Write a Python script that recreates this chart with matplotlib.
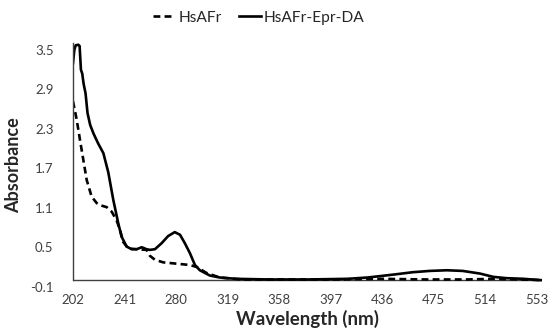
import matplotlib
matplotlib.use("Agg")
import matplotlib.pyplot as plt
from matplotlib.lines import Line2D

# HsAFr-Epr-DA (solid)
wl_solid = [202, 203, 204, 206, 207, 208, 209, 210, 211.5, 213, 215, 217.5, 221, 225,
            228.7, 232.5, 236.3, 238.8, 242.6, 246.4, 250.2, 254, 257.7, 260.2, 264,
            269, 274, 279, 283, 286.7, 290.5, 294.3, 298, 305.6, 313, 325, 350, 380,
            410, 425, 434, 447, 459, 472, 485, 497, 510, 520, 530, 543, 556]
abs_solid = [3.30, 3.50, 3.57, 3.58, 3.56, 3.20, 3.14, 2.99, 2.84, 2.54, 2.36, 2.23, 2.08, 1.93,
             1.64, 1.22, 0.86, 0.66, 0.51, 0.47, 0.47, 0.50, 0.47, 0.46, 0.47,
             0.56, 0.67, 0.73, 0.69, 0.56, 0.41, 0.23, 0.15, 0.07, 0.04, 0.02, 0.01, 0.01,
             0.02, 0.04, 0.06, 0.09, 0.12, 0.14, 0.15, 0.14, 0.10, 0.05, 0.03, 0.02, 0.00]

# HsAFr (dashed)
wl_dash = [202, 204.8, 207.3, 209.8, 212.4, 216.1, 220, 222.4, 227.5, 231.3, 235, 237.6,
           240, 243.9, 250.2, 257.7, 260.2, 264, 270.3, 280.4, 290.5, 295.6, 303, 313,
           330, 360, 400, 434, 470, 500, 520, 540, 556]
abs_dash = [2.72, 2.44, 2.13, 1.83, 1.52, 1.27, 1.17, 1.14, 1.11, 1.04, 0.91, 0.76,
            0.58, 0.48, 0.47, 0.46, 0.37, 0.31, 0.27, 0.25, 0.23, 0.20, 0.11, 0.04,
            0.01, 0.01, 0.01, 0.02, 0.01, 0.01, 0.02, 0.01, 0.00]

x_ticks = [202, 241, 280, 319, 358, 397, 436, 475, 514, 553]
y_ticks = [-0.1, 0.5, 1.1, 1.7, 2.3, 2.9, 3.5]

plt.rcParams['font.family'] = ['Lato', 'DejaVu Sans']

fig = plt.figure(figsize=(5.51, 3.34), dpi=100)
ax = fig.add_axes([73/551, 1 - 286.7/334, (542 - 73)/551, (286.7 - 43.4)/334])

ax.plot(wl_dash, abs_dash, color='black', lw=1.9, linestyle=(0, (2.6, 1.6)))
ax.plot(wl_solid, abs_solid, color='black', lw=1.9)

ax.set_xlim(202, 557)
ax.set_ylim(-0.1, 3.6)
ax.set_xticks(x_ticks)
ax.set_xticklabels([str(v) for v in x_ticks])
ax.set_yticks(y_ticks)
ax.set_yticklabels([f"{v:.1f}" for v in y_ticks])
ax.tick_params(axis='both', length=0, labelsize=9.5, colors='#404040')
ax.tick_params(axis='x', pad=5)
ax.tick_params(axis='y', pad=14)

for s in ['top', 'right', 'bottom']:
    ax.spines[s].set_visible(False)
ax.spines['left'].set_bounds(0, 3.6)
ax.spines['left'].set_color('#404040')
ax.spines['left'].set_linewidth(1.0)
ax.axhline(0, color='#404040', lw=1.0, zorder=0)

ax.set_xlabel('Wavelength (nm)', fontsize=13.5, fontweight='bold', color='#262626', labelpad=3)
ax.set_ylabel('Absorbance', fontsize=13, fontweight='bold', color='#262626', labelpad=6)

handles = [Line2D([], [], color='black', lw=1.9, linestyle=(0, (2.6, 1.6))),
           Line2D([], [], color='black', lw=1.9)]
fig.legend(handles, ['HsAFr', 'HsAFr-Epr-DA'], loc='upper center', bbox_to_anchor=(0.47, 1.01),
           ncol=2, frameon=False, fontsize=11.2, handlelength=1.4, handletextpad=0.2,
           columnspacing=1.1, labelcolor='#262626')

fig.savefig('out.png', dpi=100)
